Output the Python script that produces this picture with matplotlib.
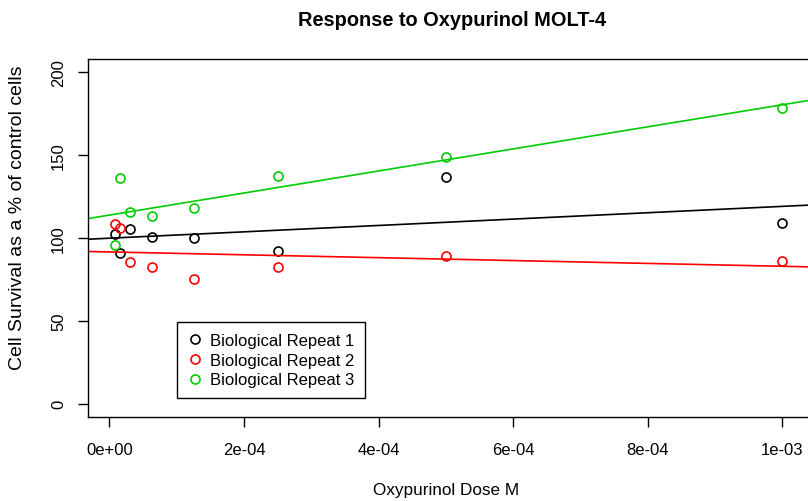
import numpy as np
import matplotlib
matplotlib.use("Agg")
import matplotlib.pyplot as plt

plt.rcParams['font.family'] = ['Liberation Sans', 'DejaVu Sans']

dose = [7.8125e-6, 1.5625e-5, 3.125e-5, 6.25e-5, 1.25e-4, 2.5e-4, 5e-4, 1e-3]
repeat1 = [102.5, 91.0, 105.5, 100.5, 99.9, 92.2, 136.9, 108.8]
repeat2 = [108.2, 106.1, 85.8, 82.5, 75.1, 82.8, 89.0, 86.0]
repeat3 = [95.8, 136.0, 115.8, 113.0, 118.0, 137.2, 149.0, 178.4]
series_names = ["Biological Repeat 1", "Biological Repeat 2", "Biological Repeat 3"]
series_colors = ["#000000", "#FF0000", "#00CD00"]
xticks = [0, 2e-4, 4e-4, 6e-4, 8e-4, 1e-3]
xtick_labels = ["0e+00", "2e-04", "4e-04", "6e-04", "8e-04", "1e-03"]
yticks = [0, 50, 100, 150, 200]

fig = plt.figure(figsize=(8.08, 5.02), dpi=100)
ax = fig.add_axes([88/808, 1-418/502, 721/808, 358/502])

x = np.array(dose)
handles = []
for ys, name, col in zip([repeat1, repeat2, repeat3], series_names, series_colors):
    y = np.array(ys)
    h, = ax.plot(x, y, linestyle='none', marker='o', markersize=6.5,
                 markerfacecolor='none', markeredgecolor=col, markeredgewidth=1.2,
                 label=name)
    handles.append(h)
    m, b = np.polyfit(x, y, 1)
    ax.axline((0, b), slope=m, color=col, linewidth=1.2)

xr = max(dose) - min(dose)
ax.set_xlim(min(dose) - 0.04*xr, max(dose) + 0.04*xr)
ax.set_ylim(-8, 208)
ax.set_xticks(xticks)
ax.set_xticklabels(xtick_labels)
ax.set_yticks(yticks)
ax.set_yticklabels([str(v) for v in yticks], rotation=90, va='center')
ax.tick_params(axis='both', direction='out', length=7.2, width=1, labelsize=12, color='#000000')
ax.tick_params(axis='x', pad=10.5)
ax.tick_params(axis='y', pad=8.5)
for s in ax.spines.values():
    s.set_linewidth(1)
    s.set_color('#000000')

fig.text(452/808, 1-20/502, "Response to Oxypurinol MOLT-4", ha='center', va='center',
         fontsize=14.4, fontweight='bold')
fig.text(446/808, 1-491/502, "Oxypurinol Dose M", ha='center', va='center', fontsize=12.3)
fig.text(18/808, 1-218/502, "Cell Survival as a % of control cells", ha='center', va='center',
         rotation=90, fontsize=14)

leg = ax.legend(handles=handles, loc='upper left', bbox_to_anchor=(177/808, 1-323/502),
                bbox_transform=fig.transFigure, borderaxespad=0, fancybox=False,
                edgecolor='#000000', framealpha=1, fontsize=12, labelspacing=0.29,
                borderpad=0.65, handlelength=0.8, handletextpad=0.5)
leg.get_frame().set_linewidth(1)

fig.savefig("out.png", dpi=100)
